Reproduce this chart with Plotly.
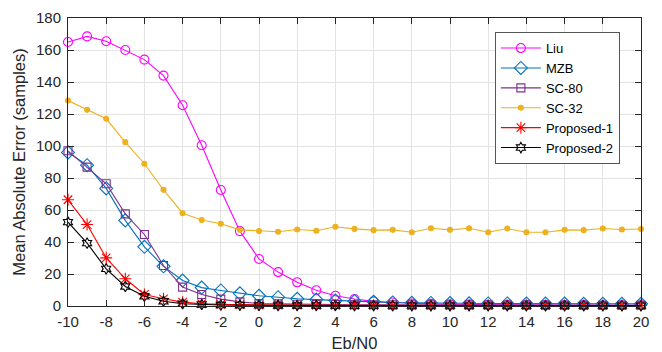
import plotly.graph_objects as go

ebn0 = list(range(-10, 21))

liu = [165, 168.5, 165.5, 160, 154, 144, 125.5, 100.5, 72.5, 46.8, 29.4, 21.2, 14.8, 9.8, 6.4, 4.4, 2.9, 2.2,
       1.6, 1.3, 1.1, 0.9, 0.8, 0.7, 0.7, 0.6, 0.6, 0.6, 0.5, 0.5, 0.5]
mzb = [96, 88, 73.5, 53.5, 37, 24.8, 15.9, 11.5, 9.7, 7.9, 6.4, 5.5, 4.5, 4.0, 3.4, 3.0, 2.6, 2.2,
       2.0, 1.9, 1.8, 1.7, 1.6, 1.6, 1.5, 1.5, 1.5, 1.4, 1.4, 1.4, 1.4]
sc80 = [97, 86.8, 76.4, 57.6, 44.7, 25.3, 11.8, 7.2, 4.3, 2.6, 1.6, 1.3, 1.1, 1.0, 0.9, 0.8, 0.8, 0.7,
        0.7, 0.7, 0.6, 0.6, 0.6, 0.6, 0.6, 0.5, 0.5, 0.5, 0.5, 0.5, 0.5]
sc32 = [128.4, 122.6, 117, 102.4, 88.9, 72.6, 58, 53.7, 51.4, 47.6, 46.8, 46.4, 47.8, 47, 49.5, 48.2, 47.4,
        47.6, 46.1, 48.6, 47.6, 48.6, 46.1, 48.4, 46.1, 46.1, 47.6, 47.4, 48.4, 47.8, 48.1]
prop1 = [66.4, 50.9, 30.1, 17, 7.2, 4.5, 2.4, 1.4, 1.0, 0.8, 0.6, 0.5, 0.5, 0.4, 0.4, 0.4, 0.4, 0.4,
         0.3, 0.3, 0.3, 0.3, 0.3, 0.3, 0.3, 0.3, 0.3, 0.3, 0.3, 0.3, 0.3]
prop2 = [52.4, 39.3, 23.2, 12.2, 6.1, 3.0, 1.4, 0.9, 0.6, 0.5, 0.4, 0.3, 0.3, 0.3, 0.3, 0.2, 0.2, 0.2,
         0.2, 0.2, 0.2, 0.2, 0.2, 0.2, 0.2, 0.2, 0.2, 0.2, 0.2, 0.2, 0.2]

x_ticks = list(range(-10, 21, 2))
x_tick_labels = [str(v) for v in x_ticks]
y_ticks = list(range(0, 181, 20))
y_tick_labels = [str(v) for v in y_ticks]

series = [
    ("Liu", liu, "#FF00FF", "circle-open", 9),
    ("MZB", mzb, "#0072BD", "diamond-open", 10),
    ("SC-80", sc80, "#7E2F8E", "square-open", 8),
    ("SC-32", sc32, "#EDB120", "circle", 5),
    ("Proposed-1", prop1, "#FF0000", "asterisk-open", 10),
    ("Proposed-2", prop2, "#000000", "hexagram-open", 8),
]

fig = go.Figure()
for name, vals, col, sym, sz in series:
    fig.add_trace(go.Scatter(
        x=ebn0, y=vals, name=name, mode="lines+markers",
        line=dict(color=col, width=1.1),
        marker=dict(symbol=sym, size=sz, color=col, line=dict(color=col, width=1.1)),
        cliponaxis=False,
    ))

axis_common = dict(
    showgrid=True, gridcolor="#E3E3E3", gridwidth=1,
    showline=True, linecolor="#262626", linewidth=1, mirror="ticks",
    ticks="inside", ticklen=6, tickcolor="#262626",
    zeroline=False, tickfont=dict(size=15, color="#262626"),
    automargin=False,
)

# page body has an 8px default margin; size the figure so the plot area lands where the reference has it
fig.update_layout(
    width=654, height=344,
    margin=dict(l=60, r=21, t=10, b=46),
    paper_bgcolor="white", plot_bgcolor="white",
    font=dict(family="Liberation Sans, Arial, sans-serif", color="#262626"),
    xaxis=dict(range=[-10, 20], tickvals=x_ticks, ticktext=x_tick_labels, ticklabelstandoff=2,
               title=dict(text="Eb/N0", font=dict(size=16.5), standoff=8), **axis_common),
    yaxis=dict(range=[0, 180], tickvals=y_ticks, ticktext=y_tick_labels, ticklabelstandoff=3,
               title=dict(text="Mean Absolute Error (samples)", font=dict(size=16.5), standoff=6), **axis_common),
    legend=dict(x=0.745, y=0.951, xanchor="left", yanchor="top",
                bgcolor="white", bordercolor="#555555", borderwidth=1,
                font=dict(size=13, color="#000000"), tracegroupgap=0, itemwidth=40),
    showlegend=True,
)

fig.write_html("out.html")
